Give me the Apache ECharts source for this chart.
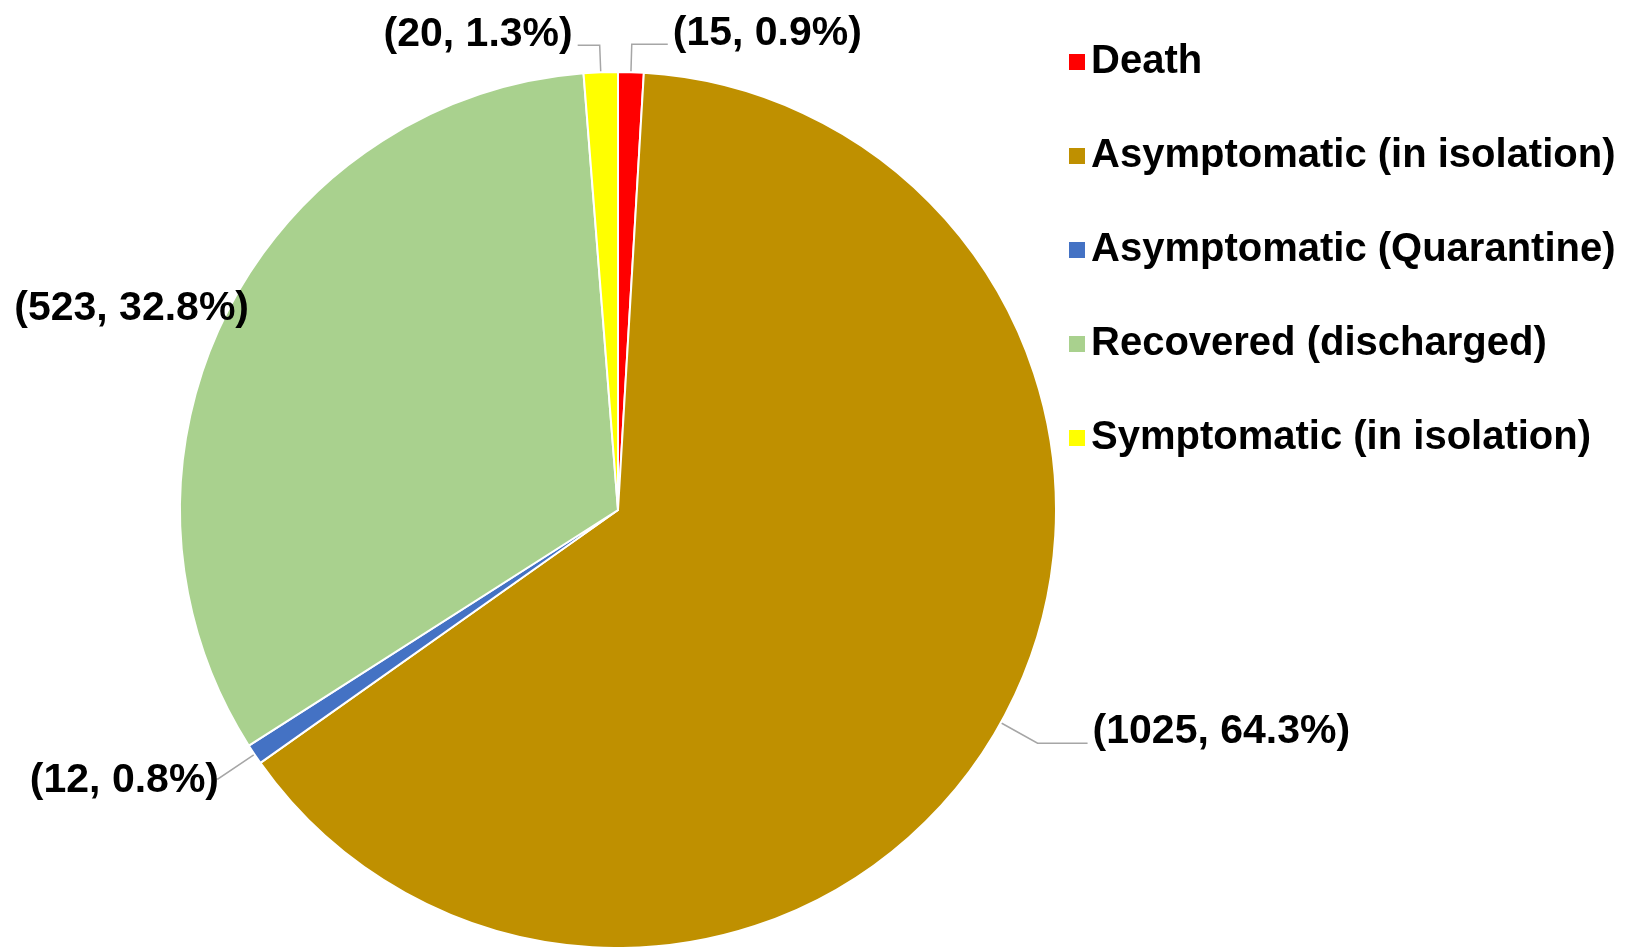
<!DOCTYPE html>
<html>
<head>
<meta charset="utf-8">
<script src="https://cdn.jsdelivr.net/npm/echarts@6/dist/echarts.min.js"></script>
<style>
  html, body { margin: 0; padding: 0; background: #fff; }
  #chart { width: 1632px; height: 947px; }
</style>
</head>
<body>
<div id="chart"></div>
<script>
const categories = ['Death', 'Asymptomatic (in isolation)', 'Asymptomatic (Quarantine)', 'Recovered (discharged)', 'Symptomatic (in isolation)']
const counts = [15, 1025, 12, 523, 20]
const percentLabels = ['0.9%', '64.3%', '0.8%', '32.8%', '1.3%']
const colors = ['#ff0000', '#bf9000', '#4472c4', '#a9d18e', '#ffff00']

// label line lengths per slice (radial part, horizontal part)
const lineLength = [28, 42, 44, 1, 27]
const lineLength2 = [36, 50, 6, 1, 22]
// small nudges of the label text relative to the line end
const labelShift = [[0, -11], [0, -11], [12, 2], [30, -6], [0, -11]]

let chart = echarts.init(document.getElementById('chart'))

let data = []
for (let i = 0; i < categories.length; i++) {
  data.push({
    name: categories[i],
    value: counts[i],
    itemStyle: { color: colors[i] },
    labelLine: {
      show: i !== 3,
      length: lineLength[i],
      length2: lineLength2[i]
    }
  })
}

let option = {
  animation: false,
  textStyle: { fontFamily: 'Liberation Sans, Arial, sans-serif' },
  legend: {
    orient: 'vertical',
    left: 1062,
    top: 34,
    itemWidth: 18,
    itemHeight: 18,
    itemGap: 48,
    icon: 'rect',
    textStyle: {
      fontSize: 40,
      fontWeight: 'bold',
      color: '#000',
      lineHeight: 46,
      fontFamily: 'Liberation Sans, Arial, sans-serif'
    },
    data: categories
  },
  series: [
    {
      type: 'pie',
      center: [618, 510],
      radius: 438,
      startAngle: 90,
      clockwise: true,
      avoidLabelOverlap: false,
      itemStyle: {
        borderColor: '#fff',
        borderWidth: 2
      },
      label: {
        show: true,
        position: 'outside',
        fontSize: 41,
        fontWeight: 'bold',
        color: '#000',
        fontFamily: 'Liberation Sans, Arial, sans-serif',
        formatter: function (p) {
          return '(' + counts[p.dataIndex] + ', ' + percentLabels[p.dataIndex] + ')'
        }
      },
      labelLine: {
        lineStyle: { color: '#a6a6a6', width: 1.5 },
        smooth: false
      },
      labelLayout: function (p) {
        return { dx: labelShift[p.dataIndex][0], dy: labelShift[p.dataIndex][1] }
      },
      emphasis: { disabled: true },
      data: data
    }
  ]
}
chart.setOption(option)
</script>
</body>
</html>
